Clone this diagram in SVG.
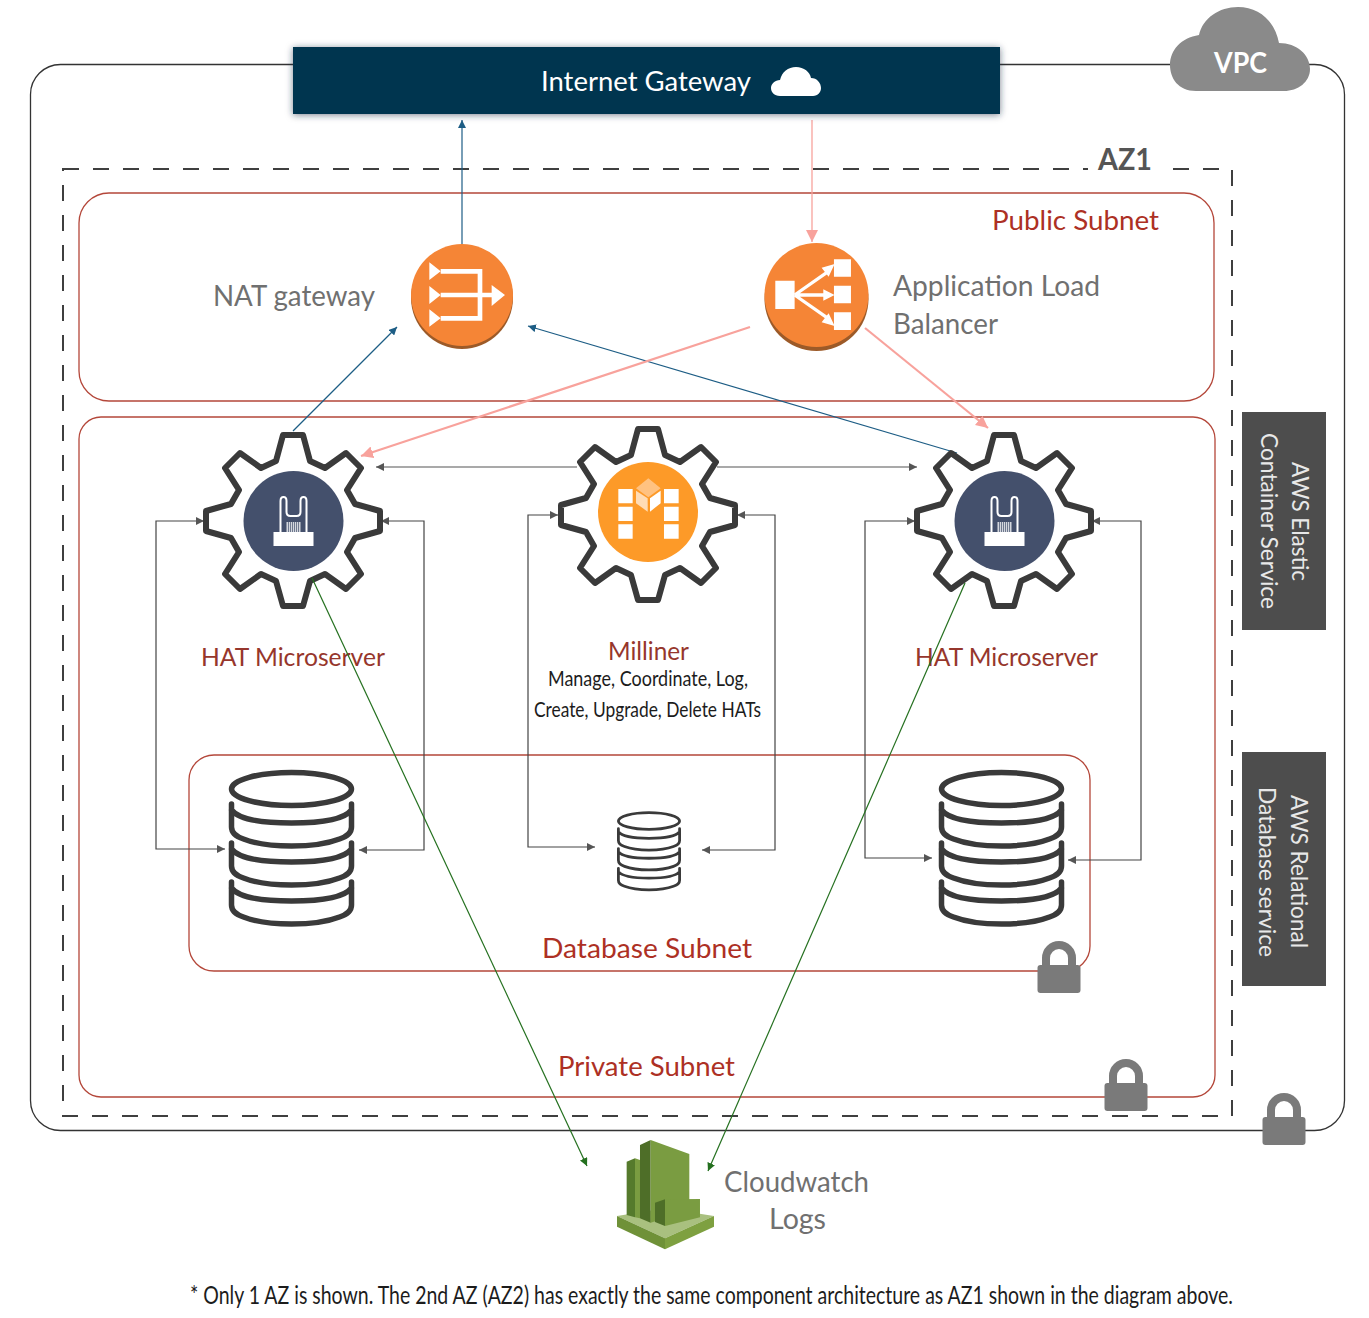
<svg xmlns="http://www.w3.org/2000/svg" width="1369" height="1318" viewBox="0 0 1369 1318">
<style>
text{font-family:Lato,"Open Sans","Liberation Sans",sans-serif}
.lbl{fill:#707070;font-size:28px}
.red{fill:#ad3024;font-size:27px}
.hat{fill:#96362c;font-size:25px}
.nar{fill:#1c1c1c;font-size:22px}
.side{fill:#e8e8e8;font-size:24px}
.sub{fill:none;stroke:#b4473a;stroke-width:1.3}
.c{fill:none;stroke-width:1.2}
.blue{stroke:#1d5d85;marker-end:url(#mb)}
.pink{stroke:#f8a29c;stroke-width:2.2;marker-end:url(#mp)}
.green{stroke:#24701f;marker-end:url(#mg)}
.grey{stroke:#444;marker-end:url(#mk);marker-start:url(#ms)}
.grey1{stroke:#555;marker-end:url(#mk)}
</style>
<defs>
<marker id="mb" markerWidth="10" markerHeight="8" refX="8" refY="4" orient="auto" markerUnits="userSpaceOnUse"><path d="M0 0L8 4L0 8Z" fill="#1d5d85"/></marker>
<marker id="mp" markerWidth="14" markerHeight="12" refX="12" refY="6" orient="auto" markerUnits="userSpaceOnUse"><path d="M0 0L12 6L0 12Z" fill="#f8a29c"/></marker>
<marker id="mg" markerWidth="10" markerHeight="8" refX="8" refY="4" orient="auto" markerUnits="userSpaceOnUse"><path d="M0 0L8 4L0 8Z" fill="#24701f"/></marker>
<marker id="mk" markerWidth="10" markerHeight="8" refX="8" refY="4" orient="auto" markerUnits="userSpaceOnUse"><path d="M0 0L8 4L0 8Z" fill="#555"/></marker>
<marker id="ms" markerWidth="10" markerHeight="8" refX="0" refY="4" orient="auto" markerUnits="userSpaceOnUse"><path d="M8 0L0 4L8 8Z" fill="#555"/></marker>
<filter id="sh" x="-5%" y="-20%" width="110%" height="140%"><feDropShadow dx="0" dy="1" stdDeviation="3.500" flood-color="#1a2a44" flood-opacity=".6"/></filter>
<path id="gear" fill="#fff" stroke="#3a3a3a" stroke-width="6" stroke-linejoin="round" d="M-10-86H10L17-60L32-53L53-68L68-53L54-31L62-17L87-10V10L62 17L54 31L68 53L53 68L32 53L17 60L10 85H-10L-17 60L-32 53L-53 68L-68 53L-54 31L-62 17L-87 10V-10L-62-17L-54-31L-68-53L-53-68L-32-53L-17-60Z"/>
<g id="hatic">
<circle r="50" fill="#44506c"/>
<path d="M-13 11V-20Q-13-24-10-24Q-7-24-7-20V-9Q-7-5-3-5H3Q7-5 7-9V-20Q7-24 10-24Q13-24 13-20V11" fill="none" stroke="#fff" stroke-width="2"/>
<rect x="-20" y="11" width="40" height="14" fill="#fff"/>
<rect x="-7" y="1" width="14" height="10" fill="#d4d7de"/>
<path d="M-5 1v10M-3 1v10M-1 1v10M1 1v10M3 1v10M5 1v10" stroke="#44506c" stroke-width=".7"/>
</g>
<g id="db" fill="none" stroke="#3a3a3a" stroke-width="5.5" stroke-linecap="round">
<ellipse cx="0" cy="0" rx="60" ry="16.5"/>
<path d="M-60 15V38Q-60 46-48 50Q-30 57 0 57Q30 57 48 50Q60 46 60 38V15M-60 21Q-50 34 0 34Q50 34 60 21"/>
<path d="M-60 54V77Q-60 85-48 89Q-30 96 0 96Q30 96 48 89Q60 85 60 77V54M-60 60Q-50 73 0 73Q50 73 60 60"/>
<path d="M-60 93V116Q-60 124-48 128Q-30 135 0 135Q30 135 48 128Q60 124 60 116V93M-60 99Q-50 112 0 112Q50 112 60 99"/>
</g>
<g id="lock">
<path d="M-13 5V-7A13 13 0 0 1 13-7V5" transform="translate(0,1)" fill="none" stroke="#7a7a7a" stroke-width="8"/>
<rect x="-21.500" y="1" width="43" height="28" rx="3" fill="#7a7a7a"/>
</g>
</defs>

<g id="vpc-box">
<rect x="30.500" y="64.500" width="1314" height="1066" rx="30" fill="none" stroke="#333" stroke-width="1.300"/>
</g>
<g id="vpc-cloud">
<path d="M1196 91C1178 91 1170 78 1170 65C1170 50 1181 38 1199 35C1203 18 1219 7 1238 7C1259 7 1275 21 1279 43C1297 43 1310 55 1310 69C1310 82 1298 91 1284 91Z" fill="#8a8a8a"/>
<text x="1214" y="73" font-size="28" font-weight="700" fill="#fff" textLength="53" lengthAdjust="spacingAndGlyphs">VPC</text>
</g>
<g id="az1">
<rect x="63" y="169" width="1169" height="947" fill="none" stroke="#3f3f3f" stroke-width="2" stroke-dasharray="16 14"/>
<rect x="1088" y="160" width="78" height="18" fill="#fff"/>
<text x="1098" y="170" font-size="30" font-weight="700" fill="#555" textLength="54" lengthAdjust="spacingAndGlyphs">AZ1</text>
</g>
<g id="public-subnet">
<rect x="79" y="193" width="1135" height="208" rx="30" class="sub"/>
<text x="992" y="230" class="red" textLength="167" lengthAdjust="spacingAndGlyphs">Public Subnet</text>
</g>
<g id="private-subnet">
<rect x="79" y="417" width="1136" height="680" rx="22" class="sub"/>
<text x="558" y="1076" class="red" textLength="177" lengthAdjust="spacingAndGlyphs">Private Subnet</text>
<use href="#lock" x="1126" y="1082"/>
</g>
<g id="database-subnet">
<rect x="189" y="755" width="901" height="216" rx="25" class="sub"/>
<text x="542" y="958" class="red" textLength="210" lengthAdjust="spacingAndGlyphs">Database Subnet</text>
<use href="#lock" x="1059" y="964"/>
</g>
<use href="#lock" x="1284" y="1116"/>

<g id="connectors">
<path class="c blue" d="M462 244V120"/>
<path class="c pink" d="M812 120V242" style="stroke-width:1.300"/>
<path class="c blue" d="M293 431L397 327"/>
<path class="c blue" d="M957 453L528 326"/>
<path class="c pink" d="M750 327L361 456"/>
<path class="c pink" d="M865 328L988 428"/>
<path class="c grey1" d="M577 467H376"/>
<path class="c grey1" d="M717 467H917"/>
<path class="c grey" d="M204 521H156V849H225"/>
<path class="c grey" d="M381 521H424V850H359"/>
<path class="c grey" d="M558 515H528V847H595"/>
<path class="c grey" d="M737 515H775V850H702"/>
<path class="c grey" d="M915 521H865V858H932"/>
<path class="c grey" d="M1092 521H1141V860H1068"/>
</g>

<g id="gateway">
<rect x="293" y="47" width="707" height="67" fill="#04364f" filter="url(#sh)"/>
<text x="541" y="91" font-size="26" fill="#fff" textLength="210" lengthAdjust="spacingAndGlyphs">Internet Gateway</text>
<path d="M780 96C774 96 771 92 771 88C771 84 775 80 780 80C782 72 788 67 796 67C804 67 810 72 811 78C817 78 821 83 821 88C821 92 818 96 813 96Z" fill="#fff"/>
</g>
<g id="nat-gateway">
<text x="213" y="306" class="lbl" textLength="162" lengthAdjust="spacingAndGlyphs">NAT gateway</text>
<circle cx="462" cy="298" r="51" fill="#9c5a28"/>
<circle cx="462" cy="295" r="51" fill="#f58536"/>
<g transform="translate(400,230) scale(.3333)" fill="#fff">
<path d="M88 97L122 124L88 150ZM88 168L122 195L88 222ZM88 238L122 265L88 290ZM275 165L315 195L275 228Z"/>
<path d="M122 124H240V265H122M122 195H280" fill="none" stroke="#fff" stroke-width="14"/>
</g>
</g>
<g id="load-balancer">
<text x="893" y="296" class="lbl" textLength="207" lengthAdjust="spacingAndGlyphs">Application Load</text>
<text x="893" y="334" class="lbl" textLength="105" lengthAdjust="spacingAndGlyphs">Balancer</text>
<circle cx="816.500" cy="299" r="52" fill="#9c5a28"/>
<circle cx="816.500" cy="295" r="52" fill="#f58536"/>
<g transform="translate(400,230) scale(.3333)" fill="#fff">
<path d="M1126 152H1184V237H1126ZM1302 88H1353V140H1302ZM1302 167H1353V220H1302ZM1302 247H1353V300H1302Z"/>
<path d="M1184 195L1280 128M1184 195H1280M1184 195L1280 262" fill="none" stroke="#fff" stroke-width="10"/>
<path d="M1265 113L1304 102L1286 140ZM1270 178L1304 195L1270 212ZM1265 277L1304 288L1286 250Z"/>
</g>
</g>
<g id="hat-left">
<use href="#gear" x="293" y="521"/>
<use href="#hatic" x="293.500" y="521"/>
<text x="201" y="666" class="hat" textLength="184" lengthAdjust="spacingAndGlyphs">HAT Microserver</text>
</g>
<g id="milliner">
<use href="#gear" x="648" y="515"/>
<circle cx="648" cy="512" r="50" fill="#fd9a28"/>
<g transform="translate(550,420) scale(.3333)">
<path d="M205 207H248V250H205ZM205 260H248V303H205ZM205 313H248V356H205ZM342 207H386V250H342ZM342 260H386V303H342ZM342 313H386V356H342ZM300 235L332 212V250L300 275Z" fill="#fff"/>
<path d="M295 175L332 205L295 232L258 205Z" fill="#ffc281"/>
<path d="M258 212L293 235V275L258 250Z" fill="#ffdcb5"/>
</g>
<text x="608" y="660" class="hat" textLength="81" lengthAdjust="spacingAndGlyphs">Milliner</text>
<text x="548" y="686" class="nar" textLength="200" lengthAdjust="spacingAndGlyphs">Manage, Coordinate, Log,</text>
<text x="534" y="717" class="nar" textLength="227" lengthAdjust="spacingAndGlyphs">Create, Upgrade, Delete HATs</text>
</g>
<g id="hat-right">
<use href="#gear" x="1004" y="521"/>
<use href="#hatic" x="1004.500" y="521"/>
<text x="915" y="666" class="hat" textLength="183" lengthAdjust="spacingAndGlyphs">HAT Microserver</text>
</g>
<g id="db-left"><use href="#db" x="291.500" y="789"/></g>
<g id="db-mid"><use href="#db" transform="translate(649,821) scale(.51)"/></g>
<g id="db-right"><use href="#db" x="1001.500" y="789"/></g>
<g id="ecs-label">
<rect x="1242" y="412" width="84" height="218" fill="#4d4d4d"/>
<text transform="translate(1292,462) rotate(90)" class="side" textLength="119" lengthAdjust="spacingAndGlyphs">AWS Elastic</text>
<text transform="translate(1261,433) rotate(90)" class="side" textLength="176" lengthAdjust="spacingAndGlyphs">Container Service</text>
</g>
<g id="rds-label">
<rect x="1242" y="752" width="84" height="234" fill="#4d4d4d"/>
<text transform="translate(1291,795) rotate(90)" class="side" textLength="153" lengthAdjust="spacingAndGlyphs">AWS Relational</text>
<text transform="translate(1259,787) rotate(90)" class="side" textLength="170" lengthAdjust="spacingAndGlyphs">Database service</text>
</g>
<g id="cloudwatch">
<g transform="translate(600,1130) scale(.3333)">
<path d="M51 258L195 235L342 258L195 325Z" fill="#a9c07f"/>
<path d="M51 258L195 325V358L51 290Z" fill="#6f9138"/>
<path d="M195 325L342 258V290L195 358Z" fill="#7ea040"/>
<path d="M80 95L105 85V262L80 255Z" fill="#557a2c"/>
<path d="M105 85L120 90V265L105 262Z" fill="#7a9c41"/>
<path d="M120 45L152 30V278L120 265Z" fill="#4e6e28"/>
<path d="M152 30L268 72V240L152 278Z" fill="#7a9c41"/>
<path d="M165 218L195 208V288L165 276Z" fill="#4e6e28"/>
<path d="M195 208L300 207V262L195 288Z" fill="#7a9c41"/>
</g>
<text x="724" y="1192" class="lbl" textLength="145" lengthAdjust="spacingAndGlyphs">Cloudwatch</text>
<text x="769" y="1229" class="lbl" textLength="57" lengthAdjust="spacingAndGlyphs">Logs</text>
</g>
<g id="green-connectors">
<path class="c green" d="M312 578L587 1166"/>
<path class="c green" d="M965 583L708 1171"/>
</g>
<text id="note" transform="translate(190,1304) scale(.78,1)" font-size="25" fill="#1c1c1c" textLength="1337" lengthAdjust="spacingAndGlyphs">* Only 1 AZ is shown. The 2nd AZ (AZ2) has exactly the same component architecture as AZ1 shown in the diagram above.</text>
</svg>
